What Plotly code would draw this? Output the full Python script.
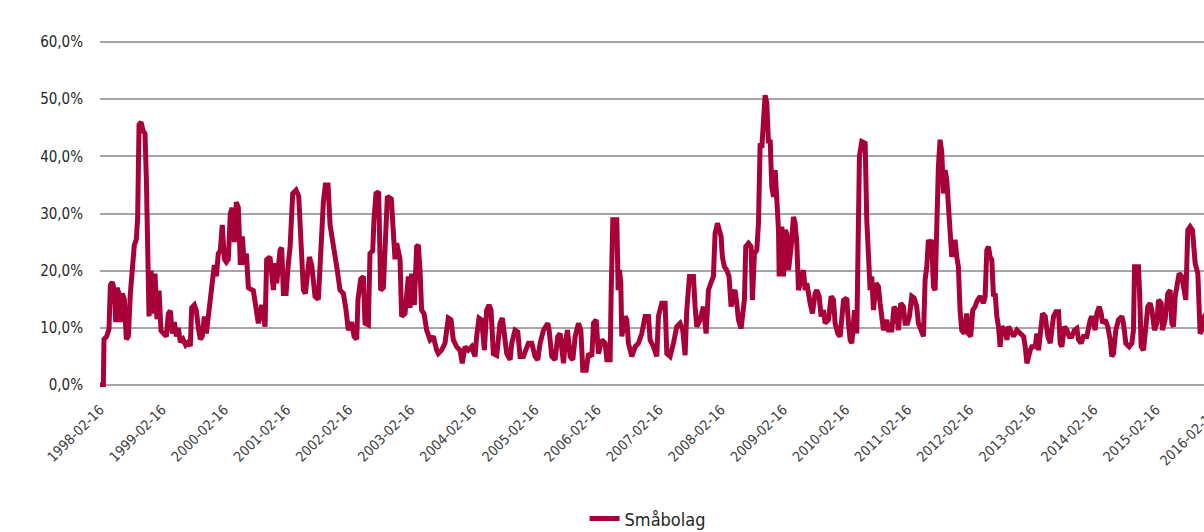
import pandas as pd
import plotly.graph_objects as go

SERIES_NAME = "Småbolag"

# Decimal years and volatility in percent
years_98_00 = [1998.126, 1998.18, 1998.19, 1998.234, 1998.271, 1998.293, 1998.325, 1998.357, 1998.379, 1998.40,
               1998.432, 1998.454, 1998.486, 1998.518, 1998.55, 1998.583, 1998.615, 1998.647, 1998.679, 1998.712,
               1998.733, 1998.755, 1998.787, 1998.819, 1998.851, 1998.873, 1998.889, 1998.916, 1998.948, 1998.98,
               1999.012, 1999.044, 1999.077, 1999.109, 1999.152, 1999.195, 1999.227, 1999.259, 1999.291, 1999.323,
               1999.356, 1999.388, 1999.42, 1999.463, 1999.506, 1999.549, 1999.581, 1999.603, 1999.646, 1999.678,
               1999.71, 1999.742, 1999.774, 1999.807, 1999.839, 1999.871, 1999.903, 1999.935, 1999.968, 2000.0,
               2000.032, 2000.064, 2000.096, 2000.129, 2000.161, 2000.193, 2000.225, 2000.257, 2000.29, 2000.322,
               2000.354, 2000.386, 2000.418, 2000.45, 2000.483, 2000.515]
vol_98_00 = [0, 0, 8.0, 8.5, 9.8, 17.5, 18.0, 16.5, 11.0, 17.0,
             16.0, 11.0, 16.0, 15.0, 8.0, 8.5, 16.0, 21.0, 24.5, 25.5,
             29.5, 45.5, 46.0, 44.5, 44.0, 36.0, 20.0, 12.0, 20.0, 12.5,
             19.5, 11.5, 16.5, 9.5, 9.0, 8.5, 12.5, 13.0, 9.0, 11.0,
             8.5, 10.0, 7.5, 8.0, 7.0, 7.5, 6.8, 13.5, 14.0, 13.0,
             10.0, 8.0, 8.5, 12.0, 9.0, 12.0, 15.5, 18.0, 21.0, 19.0,
             23.0, 23.5, 28.0, 22.0, 21.5, 22.0, 30.0, 31.0, 25.0, 32.0,
             31.0, 21.0, 26.0, 21.0, 23.0, 17.0]

years_00_03 = [2000.595, 2000.675, 2000.729, 2000.783, 2000.809, 2000.863, 2000.917, 2000.944, 2000.97, 2001.024,
               2001.051, 2001.078, 2001.121, 2001.158, 2001.185, 2001.228, 2001.282, 2001.325, 2001.346, 2001.362,
               2001.40, 2001.432, 2001.464, 2001.496, 2001.534, 2001.588, 2001.641, 2001.668, 2001.69, 2001.722,
               2001.754, 2001.797, 2001.83, 2001.862, 2001.91, 2001.947, 2001.99, 2002.044, 2002.082, 2002.124,
               2002.178, 2002.216, 2002.259, 2002.28, 2002.323, 2002.366, 2002.393, 2002.447, 2002.473, 2002.517,
               2002.538, 2002.57, 2002.613, 2002.645, 2002.688, 2002.72, 2002.753, 2002.817, 2002.849, 2002.876,
               2002.903, 2002.957, 2002.983, 2003.037]
vol_00_03 = [16.5, 10.8, 14.0, 10.2, 21.9, 22.4, 16.6, 21.3, 17.8, 23.6,
             24.0, 16.0, 16.0, 21.3, 24.0, 33.5, 34.1, 33.0, 28.0, 23.0,
             16.6, 16.0, 20.0, 22.4, 21.0, 15.5, 15.0, 20.0, 27.0, 32.0,
             35.0, 35.0, 28.0, 26.0, 22.4, 20.0, 16.6, 16.0, 13.5, 9.6,
             11.0, 8.5, 8.0, 15.0, 18.5, 19.0, 10.8, 10.5, 23.0, 23.5,
             29.0, 33.5, 33.8, 16.6, 17.0, 26.0, 33.0, 32.5, 27.0, 22.0,
             24.8, 22.0, 12.0, 12.5]

years_03_05 = [2003.091, 2003.118, 2003.144, 2003.187, 2003.225, 2003.252, 2003.279, 2003.305, 2003.343, 2003.386,
               2003.44, 2003.493, 2003.547, 2003.574, 2003.627, 2003.681, 2003.735, 2003.778, 2003.815, 2003.869,
               2003.923, 2003.96, 2004.003, 2004.057, 2004.11, 2004.164, 2004.191, 2004.229, 2004.271, 2004.315,
               2004.352, 2004.39, 2004.422, 2004.459, 2004.513, 2004.567, 2004.604, 2004.647, 2004.674, 2004.728,
               2004.755, 2004.808, 2004.851, 2004.889, 2004.943, 2004.98, 2005.023, 2005.077, 2005.13, 2005.173,
               2005.211, 2005.265, 2005.334, 2005.356, 2005.399, 2005.452, 2005.495, 2005.533]
vol_03_05 = [19.0, 13.5, 19.5, 14.0, 24.2, 24.5, 20.1, 13.1, 12.5, 9.6,
             7.9, 8.5, 6.1, 5.5, 6.1, 7.3, 11.7, 11.4, 7.9, 6.7,
             6.1, 3.8, 6.7, 6.1, 6.7, 5.0, 8.5, 11.7, 11.4, 6.1,
             13.1, 14.0, 13.1, 5.5, 5.2, 10.8, 11.7, 7.3, 5.5, 4.4,
             7.3, 9.6, 9.3, 5.0, 5.0, 6.1, 7.3, 7.3, 5.0, 4.4,
             7.3, 9.6, 10.8, 9.6, 5.0, 4.4, 8.5, 9.0]

years_05_08 = [2005.588, 2005.615, 2005.652, 2005.695, 2005.738, 2005.776, 2005.829, 2005.867, 2005.899, 2005.953,
               2005.99, 2006.044, 2006.071, 2006.114, 2006.151, 2006.205, 2006.259, 2006.286, 2006.339, 2006.355,
               2006.382, 2006.447, 2006.468, 2006.49, 2006.511, 2006.527, 2006.581, 2006.608, 2006.634, 2006.688,
               2006.742, 2006.795, 2006.849, 2006.903, 2006.957, 2006.983, 2007.037, 2007.091, 2007.117, 2007.171,
               2007.225, 2007.252, 2007.305, 2007.359, 2007.413, 2007.466, 2007.509, 2007.547, 2007.574, 2007.617,
               2007.681, 2007.708, 2007.735, 2007.788, 2007.842, 2007.885, 2007.923, 2007.96, 2008.003, 2008.03,
               2008.068]
vol_05_08 = [3.8, 7.3, 9.6, 5.0, 4.4, 8.5, 10.8, 9.6, 2.6, 2.6,
             5.5, 5.0, 10.8, 11.4, 5.5, 7.9, 7.3, 4.4, 4.4, 15.5,
             28.9, 28.9, 16.6, 20.1, 17.8, 8.5, 12.0, 11.4, 7.3, 5.0,
             6.7, 7.3, 9.0, 12.0, 12.0, 7.9, 6.7, 5.0, 12.0, 14.3,
             14.3, 5.5, 5.0, 7.3, 10.2, 10.8, 9.6, 5.2, 13.1, 19.0,
             19.0, 13.7, 10.2, 11.4, 13.7, 9.0, 16.6, 17.8, 19.0, 26.5,
             28.3]

years_08_10 = [2008.126, 2008.147, 2008.179, 2008.217, 2008.254, 2008.287, 2008.324, 2008.351, 2008.378, 2008.405,
               2008.448, 2008.469, 2008.501, 2008.523, 2008.566, 2008.609, 2008.63, 2008.662, 2008.7, 2008.727,
               2008.754, 2008.781, 2008.807, 2008.834, 2008.861, 2008.888, 2008.915, 2008.941, 2008.968, 2008.995,
               2009.022, 2009.049, 2009.06, 2009.103, 2009.129, 2009.156, 2009.183, 2009.21, 2009.253, 2009.29,
               2009.317, 2009.344, 2009.371, 2009.414, 2009.451, 2009.478, 2009.505, 2009.559, 2009.596, 2009.639,
               2009.666, 2009.704, 2009.736, 2009.773, 2009.8, 2009.854, 2009.897, 2009.935, 2009.961, 2010.005,
               2010.042, 2010.096, 2010.149, 2010.176, 2010.203, 2010.23, 2010.273, 2010.31, 2010.337, 2010.353,
               2010.391, 2010.445, 2010.471, 2010.498, 2010.525, 2010.552]
vol_08_10 = [26.0, 22.4, 20.7, 20.1, 19.0, 13.7, 16.0, 16.6, 14.3, 11.4,
             9.9, 12.5, 14.9, 24.2, 24.8, 24.2, 14.9, 23.0, 23.6, 28.3,
             42.3, 41.5, 45.2, 50.7, 49.3, 42.3, 42.9, 34.7, 32.9, 37.6,
             32.4, 27.1, 19.0, 27.7, 19.0, 27.1, 26.5, 20.1, 24.2, 29.4,
             28.3, 24.8, 16.6, 19.0, 20.1, 16.6, 17.8, 14.3, 12.5, 16.0,
             16.6, 15.5, 12.0, 13.1, 10.8, 11.4, 15.5, 14.9, 10.8, 9.0,
             8.5, 14.8, 15.2, 10.8, 7.9, 7.3, 13.1, 9.0, 37.0, 40.0,
             42.6, 42.3, 28.9, 20.7, 16.6, 19.0]

years_10_13 = [2010.579, 2010.622, 2010.659, 2010.686, 2010.713, 2010.74, 2010.793, 2010.82, 2010.874, 2010.911,
               2010.944, 2010.981, 2011.019, 2011.062, 2011.089, 2011.126, 2011.158, 2011.196, 2011.234, 2011.276,
               2011.303, 2011.357, 2011.384, 2011.411, 2011.438, 2011.464, 2011.491, 2011.518, 2011.545, 2011.572,
               2011.599, 2011.625, 2011.652, 2011.679, 2011.706, 2011.733, 2011.76, 2011.786, 2011.813, 2011.84,
               2011.867, 2011.894, 2011.921, 2011.947, 2011.974, 2012.001, 2012.039, 2012.082, 2012.108, 2012.146,
               2012.178, 2012.216, 2012.243, 2012.296, 2012.35, 2012.377, 2012.404, 2012.431, 2012.457, 2012.484,
               2012.511, 2012.538, 2012.565, 2012.592, 2012.618, 2012.645, 2012.699, 2012.726, 2012.753, 2012.779,
               2012.833, 2012.887, 2012.94, 2012.994, 2013.021, 2013.048]
vol_10_13 = [13.1, 17.8, 17.2, 14.3, 11.4, 9.6, 11.4, 9.6, 9.6, 13.7,
             13.1, 9.6, 14.3, 13.7, 10.8, 10.8, 12.0, 15.5, 15.2, 13.7,
             10.8, 9.0, 8.5, 18.4, 20.7, 25.4, 24.8, 25.4, 17.2, 16.6,
             31.2, 38.2, 42.9, 40.8, 33.5, 37.6, 35.9, 31.8, 26.5, 22.4,
             24.2, 25.4, 22.4, 20.7, 13.1, 9.6, 9.0, 12.5, 9.0, 8.5,
             13.1, 13.7, 14.6, 15.5, 14.3, 15.5, 23.6, 24.2, 22.4, 21.9,
             15.5, 16.0, 12.0, 10.2, 6.7, 10.2, 9.6, 7.9, 10.2, 9.6,
             8.5, 9.6, 9.0, 8.5, 6.7, 3.8]

years_13_16 = [2013.102, 2013.128, 2013.182, 2013.209, 2013.236, 2013.263, 2013.3, 2013.343, 2013.386, 2013.424,
               2013.477, 2013.515, 2013.558, 2013.585, 2013.611, 2013.654, 2013.692, 2013.73, 2013.772, 2013.815,
               2013.853, 2013.88, 2013.923, 2013.96, 2014.014, 2014.068, 2014.094, 2014.148, 2014.175, 2014.213,
               2014.245, 2014.266, 2014.309, 2014.352, 2014.39, 2014.417, 2014.443, 2014.481, 2014.524, 2014.578,
               2014.604, 2014.642, 2014.696, 2014.739, 2014.765, 2014.782, 2014.846, 2014.862, 2014.889, 2014.927,
               2014.953, 2014.996, 2015.034, 2015.061, 2015.104, 2015.141, 2015.168, 2015.211, 2015.233, 2015.275,
               2015.318, 2015.356, 2015.383, 2015.41, 2015.437, 2015.463, 2015.501, 2015.544, 2015.587, 2015.608,
               2015.64, 2015.678, 2015.716, 2015.759, 2015.802, 2015.823, 2015.839, 2015.866, 2015.904, 2015.95]
vol_13_16 = [6.1, 6.7, 6.7, 9.0, 6.1, 9.6, 12.5, 12.0, 8.5, 7.3,
             12.0, 12.8, 12.8, 7.3, 6.7, 10.2, 9.6, 8.5, 8.5, 9.6,
             9.9, 7.9, 7.3, 8.5, 8.5, 11.4, 12.0, 9.6, 12.5, 13.7,
             12.5, 10.8, 11.4, 10.2, 7.9, 5.0, 5.5, 9.6, 11.4, 12.0,
             10.8, 7.3, 6.7, 7.3, 9.6, 20.7, 20.7, 16.6, 6.7, 6.1,
             9.6, 13.7, 14.3, 13.1, 9.6, 10.8, 14.9, 14.3, 9.6, 11.4,
             16.0, 16.6, 10.8, 10.2, 15.5, 17.2, 19.5, 19.0, 16.0, 14.9,
             27.1, 27.7, 27.1, 21.3, 19.5, 15.5, 9.0, 9.6, 12.0, 12.5]

tick_dates = [f"{y}-02-16" for y in range(1998, 2017)]
y_ticks = [0, 10, 20, 30, 40, 50, 60]
y_ticktext = ["0,0%", "10,0%", "20,0%", "30,0%", "40,0%", "50,0%", "60,0%"]
x_start, x_end = "1998-02-16", "2015-11-26"

years = (years_98_00 + years_00_03 + years_03_05 + years_05_08 +
         years_08_10 + years_10_13 + years_13_16)
vols = (vol_98_00 + vol_00_03 + vol_03_05 + vol_05_08 +
        vol_08_10 + vol_10_13 + vol_13_16)


def to_date(y):
    yi = int(y)
    start = pd.Timestamp(year=yi, month=1, day=1)
    ndays = 366 if pd.Timestamp(year=yi, month=12, day=31).dayofyear == 366 else 365
    return start + pd.Timedelta(days=(y - yi) * ndays)


dates = [to_date(y) for y in years]

FONT = "Liberation Sans Narrow, DejaVu Sans Condensed, Arial Narrow, sans-serif"
LINE_COLOR = "#a8003b"
GRID = "#a6a6a6"
XTICK_SIZE = 14

fig = go.Figure()
fig.add_trace(go.Scatter(x=dates, y=vols, mode="lines", name=SERIES_NAME,
                         line=dict(color=LINE_COLOR, width=5)))

# cut-off last tick label (outside the visible range)
t0, t1 = pd.Timestamp(x_start), pd.Timestamp(x_end)
frac = (pd.Timestamp(tick_dates[-1]) - t0) / (t1 - t0)

fig.update_layout(
    width=1204, height=532,
    margin=dict(l=100, r=0, t=40, b=145, autoexpand=False),
    paper_bgcolor="white", plot_bgcolor="white",
    font=dict(family=FONT, size=15, color="#262626"),
    showlegend=True,
    legend=dict(orientation="h", x=0.496, xanchor="center", y=-0.380, yanchor="middle",
                font=dict(size=18, color="#262626"), borderwidth=0),
    annotations=[dict(xref="paper", yref="paper", x=frac, y=-0.035, xanchor="right", yanchor="top",
                      xshift=5, yshift=-4,
                      text=tick_dates[-1], textangle=-45, showarrow=False,
                      font=dict(size=XTICK_SIZE, color="#404040"))],
)
fig.update_xaxes(type="date", range=[x_start, x_end], tickmode="array", tickvals=tick_dates,
                 ticktext=tick_dates, tickangle=-45, showgrid=False, zeroline=False,
                 showline=False, ticks="", tickfont=dict(size=XTICK_SIZE, color="#404040"),
                 ticklabelstandoff=11, automargin=False)
fig.update_yaxes(range=[-0.35, 60.35], tickmode="array", tickvals=y_ticks, ticktext=y_ticktext,
                 showgrid=True, gridcolor=GRID, gridwidth=1.5, zeroline=False, showline=False,
                 ticks="", tickfont=dict(size=15, color="#262626"), ticklabelstandoff=16,
                 automargin=False)

fig.write_html("out.html", config={"displayModeBar": False},
               post_script="document.body.style.margin='0px';")
